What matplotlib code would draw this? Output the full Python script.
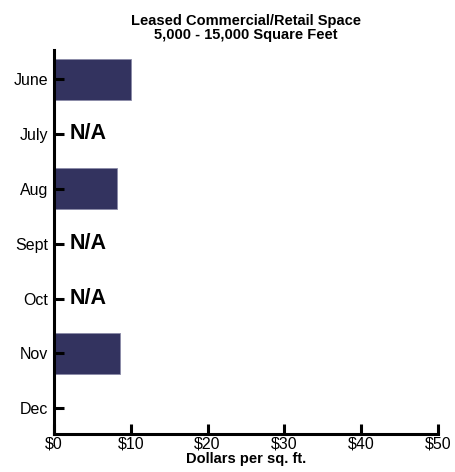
import numpy as np
import matplotlib.pyplot as plt

plt.rcParams['font.family'] = ['Liberation Sans', 'DejaVu Sans']

months = ['June', 'July', 'Aug', 'Sept', 'Oct', 'Nov', 'Dec']
dollars = [10.1, np.nan, 8.2, np.nan, np.nan, 8.6, np.nan]
not_available = ['July', 'Sept', 'Oct']
xticks = [0, 10, 20, 30, 40, 50]

fig = plt.figure(figsize=(4.56, 4.72), dpi=100)
ax = fig.add_axes([0.118, 0.0805, 0.843, 0.8135])

ypos = np.arange(len(months))
vals = np.nan_to_num(dollars)
ax.barh(ypos, vals, height=0.75, color='#33335f', edgecolor='#8a8aa8', linewidth=0.6)

# months with no data get a bold N/A marker
for m in not_available:
    i = months.index(m)
    ax.text(2.0, i, 'N/A', fontsize=15.5, fontweight='heavy', va='center', ha='left')

ax.set_xlim(0, 50)
ax.set_ylim(6.47, -0.53)
ax.set_yticks(ypos)
ax.set_yticklabels(months, fontsize=11.5)
ax.set_xticks(xticks)
ax.set_xticklabels(['$%d' % v for v in xticks], fontsize=11.5)

for s in ['top', 'right']:
    ax.spines[s].set_visible(False)
ax.spines['left'].set_linewidth(2.2)
ax.spines['bottom'].set_linewidth(2.2)
ax.tick_params(axis='both', direction='in', length=7, width=2.2)
ax.tick_params(axis='y', pad=4)
ax.tick_params(axis='x', pad=2)

title_font = ['Liberation Sans Narrow', 'Liberation Sans', 'DejaVu Sans']
ax.set_title('Leased Commercial/Retail Space\n5,000 - 15,000 Square Feet',
             fontsize=10.5, fontweight='bold', family=title_font, linespacing=0.95, pad=8)
ax.set_xlabel('Dollars per sq. ft.', fontsize=10.5, fontweight='bold', family=title_font, labelpad=0)

fig.savefig('out.png', dpi=100)
